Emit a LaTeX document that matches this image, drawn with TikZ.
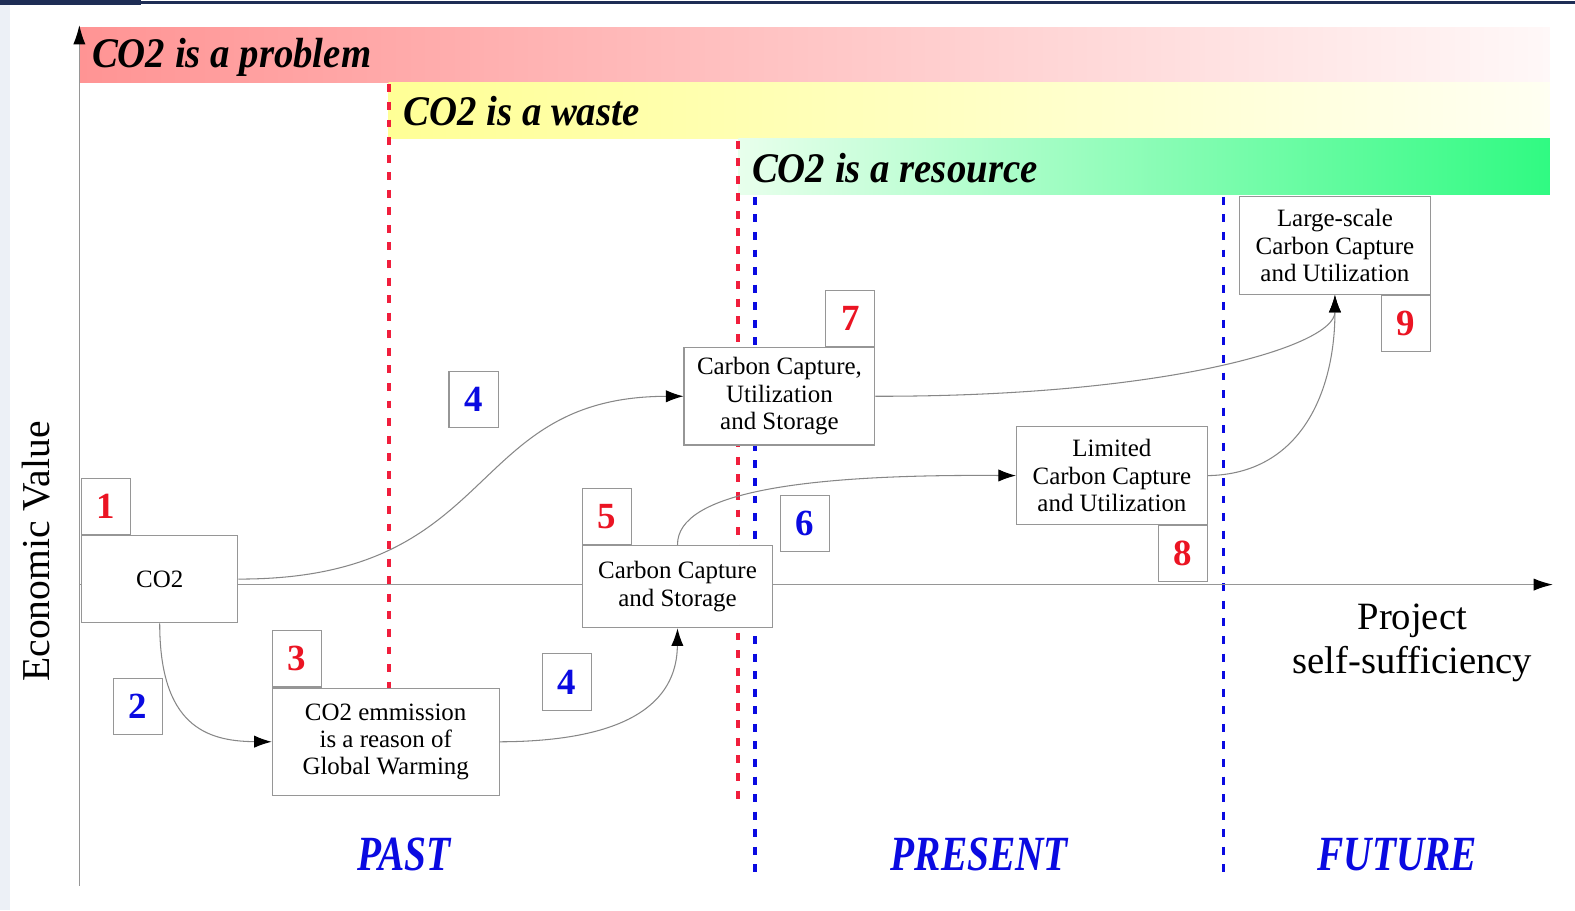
\documentclass[tikz,border=0pt]{standalone}
\usepackage{fontspec}
\setmainfont{Liberation Serif}
\usetikzlibrary{arrows.meta,positioning}
\definecolor{boxgray}{RGB}{150,150,150}
\definecolor{linegray}{RGB}{135,135,135}
\definecolor{numred}{RGB}{235,20,35}
\definecolor{numblue}{RGB}{10,10,225}
\definecolor{dashred}{RGB}{240,30,60}
\definecolor{navybar}{RGB}{30,45,85}
\definecolor{sidegray}{RGB}{236,240,246}
\begin{document}
\begin{tikzpicture}[x=0.02009cm, y=-0.02009cm,
  stagebox/.style={rectangle, draw=boxgray, fill=white, line width=0.6pt, align=center,
    font=\fontsize{14.2}{15.5}\selectfont, minimum width=3.82cm, minimum height=1.95cm, inner sep=2pt},
  numbox/.style={rectangle, draw=boxgray, fill=white, line width=0.6pt,
    minimum width=0.985cm, minimum height=1.125cm, font=\fontsize{21}{21}\selectfont\bfseries},
  flow/.style={draw=linegray, line width=0.6pt, -{Latex[length=10pt,width=7pt,color=black]}},
  axisline/.style={draw=boxgray, line width=0.7pt, -{Latex[length=11pt,width=7pt,color=black]}},
  bannertext/.style={anchor=west, font=\fontsize{24}{24}\selectfont\bfseries\itshape, xscale=0.92},
  phasetext/.style={text=numblue, font=\fontsize{28}{28}\selectfont\bfseries\itshape, xscale=0.8},
  reddash/.style={draw=dashred, line width=2.2pt, dash pattern=on 4.5pt off 5.5pt},
  bluedash/.style={draw=numblue, line width=2.2pt, dash pattern=on 4.5pt off 5.5pt}]
  \useasboundingbox (0,0) rectangle (1568,906);
  % Page frame
  \fill[sidegray] (0,5) rectangle (10,906);
  \fill[navybar] (0,0) rectangle (140,5);
  \fill[navybar] (140,1) rectangle (1568,4);
  % Banners
  \shade[left color={rgb,255:red,255;green,148;blue,148}, right color={rgb,255:red,255;green,248;blue,248}] (79,27) rectangle (1543,82);
  \shade[left color={rgb,255:red,255;green,255;blue,150}, right color={rgb,255:red,255;green,255;blue,242}] (387,82) rectangle (1543,138);
  \shade[left color={rgb,255:red,232;green,255;blue,236}, right color={rgb,255:red,48;green,250;blue,130}] (735,138) rectangle (1543,194);
  \node (problem) [bannertext] at (86,57) {CO2 is a problem};
  \node (waste) [bannertext] at (396,111) {CO2 is a waste};
  \node (resource) [bannertext] at (743,167) {CO2 is a resource};
  % Dashed lines
  \draw[reddash] (387,84) -- (387,797);
  \draw[reddash] (735,140) -- (735,800);
  \draw[bluedash] (752,196) -- (752,878);
  \draw[bluedash] (1218,196) -- (1218,878);
  % Axes
  \coordinate (ybot) at (79,882);
  \coordinate (ytop) at (79,25);
  \coordinate (origin) at (79,582);
  \coordinate (xend) at (1546,582);
  \draw[axisline] (ybot) -- (ytop);
  \draw[axisline] (origin) -- (xend);
  \node (yname) [rotate=90, font=\fontsize{22.5}{22.5}\selectfont] at (36,549) {Economic Value};
  \node (xname) [align=center, font=\fontsize{22}{25}\selectfont] at (1406,640) {Project\\self-sufficiency};
  % Stages
  \node (co2) [stagebox, minimum width=3.13cm, minimum height=1.75cm] at (159,576.5) {CO2};
  \node (emis) [stagebox, minimum width=4.54cm, minimum height=2.15cm] at (384,738.5) {CO2 emmission\\is a reason of\\Global Warming};
  \node (ccs) [stagebox, minimum width=3.8cm, minimum height=1.65cm] at (674.5,584) {Carbon Capture\\and Storage};
  \node (ccus) [stagebox] at (776,394.5) {Carbon Capture,\\Utilization\\and Storage};
  \node (lccu) [stagebox] at (1107,473.5) {Limited\\Carbon Capture\\and Utilization};
  \node (lsccu) [stagebox] at (1329,244.5) {Large-scale\\Carbon Capture\\and Utilization};
  % Numbers
  \node (n1) [numbox, text=numred, anchor=south west] at (co2.north west) {1};
  \node (n2) [numbox, text=numblue] at (137.5,703.5) {2};
  \node (n3) [numbox, text=numred, anchor=south west] at (emis.north west) {3};
  \node (n4a) [numbox, text=numblue] at (471.5,398) {4};
  \node (n4b) [numbox, text=numblue] at (564.5,679) {4};
  \node (n5) [numbox, text=numred, anchor=south west] at (ccs.north west) {5};
  \node (n6) [numbox, text=numblue] at (801.5,521) {6};
  \node (n7) [numbox, text=numred, anchor=south east] at (ccus.north east) {7};
  \node (n8) [numbox, text=numred, anchor=north east] at (lccu.south east) {8};
  \node (n9) [numbox, text=numred, anchor=north east] at (lsccu.south east) {9};
  % Arrows
  \draw[flow] (co2.east) .. controls (500,577) and (460,395) .. (ccus.west);
  \draw[flow] (co2.south) .. controls (159,722) and (205,738) .. (emis.west);
  \draw[flow] (emis.east) .. controls (640,738) and (674,690) .. (ccs.south);
  \draw[flow] (ccs.north) .. controls (674,490) and (800,472) .. (lccu.west);
  \draw[flow] (ccus.east) .. controls (1160,395) and (1329,345) .. (lsccu.south);
  \draw[flow] (lccu.east) .. controls (1295,472) and (1329,390) .. (lsccu.south);
  % Phases
  \node (past) [phasetext] at (402,851) {PAST};
  \node (present) [phasetext] at (975,851) {PRESENT};
  \node (future) [phasetext] at (1391,851) {FUTURE};
\end{tikzpicture}
\end{document}
